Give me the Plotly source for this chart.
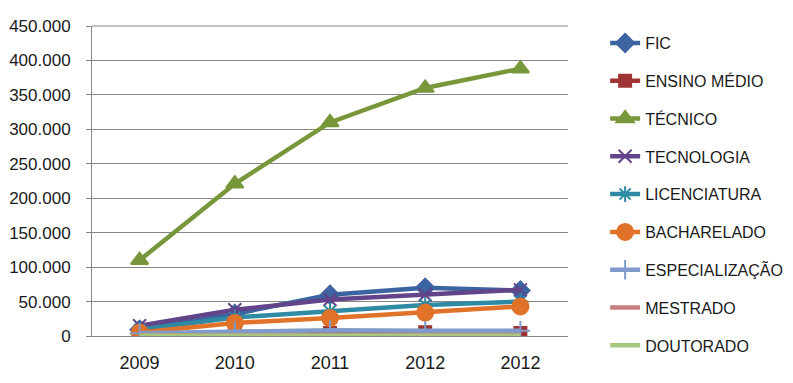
import plotly.graph_objects as go

categories = ["2009", "2010", "2011", "2012", "2012"]
series_names = ["FIC", "ENSINO MÉDIO", "TÉCNICO", "TECNOLOGIA", "LICENCIATURA",
                "BACHARELADO", "ESPECIALIZAÇÃO", "MESTRADO", "DOUTORADO"]
fic = [9000, 32000, 60000, 70000, 66000]
ensino_medio = [1000, 2000, 4500, 5500, 4500]
tecnico = [110000, 221000, 310000, 360000, 388000]
tecnologia = [15000, 38000, 53000, 60000, 67000]
licenciatura = [9000, 27000, 36000, 45000, 50000]
bacharelado = [5000, 19000, 26000, 34000, 43000]
especializacao = [4000, 6500, 8500, 7500, 7500]
mestrado = [1000, 1200, 1500, 1500, 1500]
doutorado = [300, 400, 500, 500, 500]

values = [fic, ensino_medio, tecnico, tecnologia, licenciatura,
          bacharelado, especializacao, mestrado, doutorado]
colors = ["#3C64A0", "#9E3433", "#78973B", "#62448A", "#2F8AA3",
          "#E07229", "#7E9BCB", "#C97F7F", "#A6C77E"]
symbols = ["diamond", "square", "triangle-up", "x-thin-open", "asterisk-open",
           "circle", "cross-thin-open", None, None]
sizes = [14, 12, 15, 13, 13, 16, 14, 0, 0]

x = list(range(len(categories)))
fig = go.Figure()
for i, name in enumerate(series_names):
    if symbols[i] is None:
        mode = "lines"
        marker = dict()
    else:
        mode = "lines+markers"
        marker = dict(symbol=symbols[i], size=sizes[i], color=colors[i],
                      line=dict(color=colors[i], width=2))
    fig.add_trace(go.Scatter(
        x=x, y=values[i], name=name, mode=mode,
        line=dict(color=colors[i], width=4.5),
        marker=marker, legendgroup=name,
    ))

# page body has an 8px default margin, so the figure is shifted by 8px
fig.update_layout(
    width=785, height=375,
    margin=dict(l=84, r=225, t=18, b=47, autoexpand=False),
    paper_bgcolor="white", plot_bgcolor="white",
    font=dict(family="Liberation Sans, Arial, sans-serif", size=18, color="#1a1a1a"),
    separators=",.",
    showlegend=True,
    legend=dict(x=1.078, xanchor="left", y=1.0, yanchor="top",
                tracegroupgap=14, font=dict(size=16), maxheight=400,
                bgcolor="rgba(0,0,0,0)"),
)
fig.update_xaxes(
    tickmode="array", tickvals=x, ticktext=categories,
    range=[-0.5, len(categories) - 0.5],
    showgrid=False, showline=True, linecolor="#868686", linewidth=1,
    ticks="", zeroline=False, ticklabelstandoff=10,
)
fig.update_yaxes(
    range=[0, 450000], dtick=50000, tickformat=",.0f",
    showgrid=True, gridcolor="#868686", gridwidth=1,
    showline=True, linecolor="#868686", linewidth=1,
    ticks="outside", ticklen=5, tickcolor="#868686",
    zeroline=False, ticklabelstandoff=12, tickfont=dict(size=17),
)
fig.add_shape(type="line", xref="paper", yref="paper", x0=0, x1=1, y0=1, y1=1,
              line=dict(color="#868686", width=1))
fig.write_html("out.html")
